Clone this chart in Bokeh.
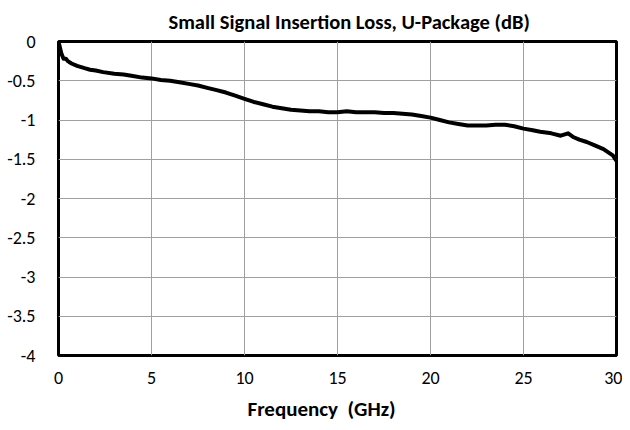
from bokeh.plotting import figure
from bokeh.models import FixedTicker, Range1d, Title
from bokeh.embed import file_html
from bokeh.resources import INLINE

freq_ghz = [0.0, 0.05, 0.15, 0.27, 0.4, 0.5, 0.7, 1.0, 1.4, 1.7, 2.0, 2.4, 3.0, 3.5, 4.0,
            4.5, 5.0, 5.5, 6.0, 6.5, 7.0, 7.5, 8.0, 8.5, 9.0, 9.5, 10.0, 10.5, 11.0,
            11.5, 12.0, 12.5, 13.0, 13.5, 14.0, 14.5, 15.0, 15.5, 16.0, 16.5, 17.0,
            17.5, 18.0, 18.5, 19.0, 19.5, 20.0, 20.5, 21.0, 21.5, 22.0, 22.5, 23.0,
            23.5, 24.0, 24.5, 25.0, 25.5, 25.9, 26.5, 27.0, 27.4, 27.7, 28.0, 28.4,
            28.8, 29.3, 29.8, 30.0]
loss_db = [0.0, -0.05, -0.15, -0.22, -0.22, -0.25, -0.28, -0.31, -0.34, -0.36, -0.37, -0.39,
           -0.41, -0.42, -0.44, -0.46, -0.47, -0.49, -0.5, -0.52, -0.54, -0.56, -0.59,
           -0.62, -0.65, -0.69, -0.73, -0.77, -0.8, -0.83, -0.85, -0.87, -0.88, -0.89,
           -0.89, -0.9, -0.9, -0.89, -0.9, -0.9, -0.9, -0.91, -0.91, -0.92, -0.93,
           -0.95, -0.97, -1.0, -1.03, -1.05, -1.07, -1.07, -1.07, -1.06, -1.06, -1.08,
           -1.11, -1.13, -1.15, -1.17, -1.2, -1.17, -1.22, -1.25, -1.28, -1.32, -1.37,
           -1.45, -1.52]

x_ticks = [0, 5, 10, 15, 20, 25, 30]
y_ticks = [0, -0.5, -1, -1.5, -2, -2.5, -3, -3.5, -4]
y_tick_labels = ["0", "-0.5", "-1", "-1.5", "-2", "-2.5", "-3", "-3.5", "-4"]

title_text = "Small Signal Insertion Loss, U-Package (dB)"
x_label = "Frequency\u00a0 (GHz)"

FONT = "Carlito, Lato, sans-serif"

p = figure(width=622, height=428, output_backend="svg", toolbar_location=None,
           x_range=Range1d(0, 30), y_range=Range1d(-4, 0),
           min_border_left=58, min_border_right=6, min_border_top=40,
           min_border_bottom=70)

p.title.text = title_text
p.title.align = "left"
p.title.text_font = FONT
p.title.text_font_size = "20.5px"
p.title.text_font_style = "bold"
p.title.text_color = "#000000"
p.title.offset = 110
p.title.standoff = 13

p.line(freq_ghz, loss_db, line_color="#000000", line_width=4, line_join="round")

p.outline_line_color = "#000000"
p.outline_line_width = 3
p.outline_line_alpha = 1.0

p.xaxis.ticker = FixedTicker(ticks=x_ticks)
p.yaxis.ticker = FixedTicker(ticks=y_ticks)
p.yaxis.major_label_overrides = {t: l for t, l in zip(y_ticks, y_tick_labels)}
for ax in (p.xaxis, p.yaxis):
    ax.axis_line_color = None
    ax.major_tick_line_color = None
    ax.minor_tick_line_color = None
    ax.major_label_text_font = FONT
    ax.major_label_text_font_size = "18px"
    ax.major_label_text_color = "#000000"
p.yaxis.major_label_standoff = 17
p.xaxis.major_label_standoff = 10

xlab = Title(text=x_label, align="left", offset=189, standoff=14,
             text_font=FONT, text_font_size="21px", text_font_style="bold",
             text_color="#000000")
p.add_layout(xlab, "below")

p.xgrid.grid_line_color = "#a0a0a0"
p.ygrid.grid_line_color = "#a0a0a0"
p.xgrid.grid_line_width = 1
p.ygrid.grid_line_width = 1

open("out.html", "w").write(file_html(p, INLINE))
